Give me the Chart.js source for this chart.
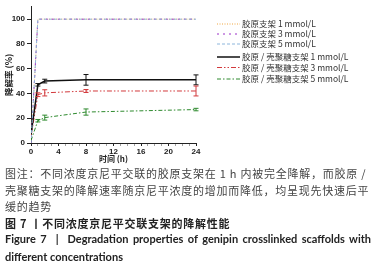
<!DOCTYPE html>
<html lang="zh">
<head>
  <meta charset="UTF-8" />
  <title>Figure 7</title>
  <script src="https://cdn.jsdelivr.net/npm/chart.js"></script>
  <style>
    body {
      margin: 0;
      background: #fff;
      width: 379px;
      height: 267px;
      overflow: hidden;
      position: relative;
    }
    .chart-box {
      position: absolute;
      left: 0;
      top: 0;
      width: 379px;
      height: 170px;
    }
    .caption {
      position: absolute;
      left: 5px;
      top: 165px;
      width: 366px;
      font-family: "Noto Sans CJK SC", sans-serif;
      font-size: 11px;
      line-height: 16.6px;
      letter-spacing: 0.75px;
      color: #444;
      white-space: nowrap;
    }
    .caption .title-cn {
      color: #222;
      font-weight: bold;
    }
    .caption .title-en {
      font-family: "Lato", sans-serif;
      font-weight: bold;
      color: #222;
      letter-spacing: 0;
      font-size: 11px;
    }
    .justify {
      display: block;
      text-align: justify;
      text-align-last: justify;
      white-space: normal;
    }
  </style>
</head>
<body>
  <div class="chart-box">
    <canvas id="degradationChart"></canvas>
  </div>

  <div class="caption">
    图注：不同浓度京尼平交联的胶原支架在 1 h 内被完全降解，而胶原 /<br>
    壳聚糖支架的降解速率随京尼平浓度的增加而降低，均呈现先快速后平<br>
    缓的趋势<br>
    <span class="title-cn">图 7 丨不同浓度京尼平交联支架的降解性能</span><br>
    <span class="title-en justify">Figure 7 &nbsp;| &nbsp;Degradation properties of genipin crosslinked scaffolds with</span>
    <span class="title-en">different concentrations</span>
  </div>

  <script>
    // time points (h)
    const hours = [0, 1, 2, 8, 24];

    // collagen scaffolds - fully degraded within 1 h
    const collagen1 = [0, 100, 100, 100, 100];
    const collagen3 = [0, 100, 100, 100, 100];
    const collagen5 = [0, 100, 100, 100, 100];

    // collagen / chitosan scaffolds
    const chitosan1 = [7, 47, 50, 51, 51];
    const chitosan3 = [5, 39, 40.5, 42, 42];
    const chitosan5 = [2, 18, 20.5, 25, 27];

    // error bars (+/-)
    const chitosan1Err = [0, 1, 1.5, 4.3, 4];
    const chitosan3Err = [0, 1.5, 2.5, 1.2, 4];
    const chitosan5Err = [0, 1, 2, 2.5, 1];

    const seriesLabels = [
      '胶原支架 1 mmol/L',
      '胶原支架 3 mmol/L',
      '胶原支架 5 mmol/L',
      '胶原 / 壳聚糖支架 1 mmol/L',
      '胶原 / 壳聚糖支架 3 mmol/L',
      '胶原 / 壳聚糖支架 5 mmol/L'
    ];

    const xTickValues = [0, 4, 8, 12, 16, 20, 24];
    const xMinorTicks = [1, 2, 3, 5, 6, 7, 9, 10, 11, 13, 14, 15, 17, 18, 19, 21, 22, 23];
    const yTickValues = [0, 20, 40, 60, 80, 100];

    const toPoints = vals => hours.map((h, i) => ({ x: h, y: vals[i] }));

    const makeSet = (label, vals, color, dash, width, order, errors) => ({
      label: label,
      data: toPoints(vals),
      borderColor: color,
      backgroundColor: color,
      borderDash: dash,
      borderWidth: width,
      pointRadius: 0,
      tension: 0,
      fill: false,
      order: order,
      errors: errors
    });

    // error bar drawing, values go through the y scale
    const errorBars = {
      id: 'errorBars',
      afterDatasetsDraw(chart) {
        const ctx = chart.ctx;
        const yScale = chart.scales.y;
        chart.data.datasets.forEach((ds, i) => {
          if (!ds.errors) return;
          const meta = chart.getDatasetMeta(i);
          meta.data.forEach((pt, j) => {
            const e = ds.errors[j];
            if (!e) return;
            const top = yScale.getPixelForValue(ds.data[j].y + e);
            const bot = yScale.getPixelForValue(ds.data[j].y - e);
            ctx.save();
            ctx.strokeStyle = ds.borderColor;
            ctx.lineWidth = 1;
            ctx.beginPath();
            ctx.moveTo(pt.x, top); ctx.lineTo(pt.x, bot);
            ctx.moveTo(pt.x - 2.5, top); ctx.lineTo(pt.x + 2.5, top);
            ctx.moveTo(pt.x - 2.5, bot); ctx.lineTo(pt.x + 2.5, bot);
            ctx.stroke();
            ctx.restore();
          });
        });
      }
    };

    // legend in the upper right, two groups
    const sideLegend = {
      id: 'sideLegend',
      afterDraw(chart) {
        const ctx = chart.ctx;
        const rowsY = [24, 34, 44, 57, 67.5, 79];
        chart.data.datasets.forEach((ds, i) => {
          const y = rowsY[i];
          ctx.save();
          ctx.strokeStyle = ds.borderColor;
          ctx.lineWidth = ds.borderWidth;
          ctx.setLineDash(ds.borderDash || []);
          ctx.beginPath();
          ctx.moveTo(217, y);
          ctx.lineTo(240, y);
          ctx.stroke();
          ctx.setLineDash([]);
          ctx.fillStyle = '#333';
          ctx.font = '8.5px "Noto Sans CJK SC"';
          ctx.textBaseline = 'middle';
          ctx.fillText(ds.label, 242, y);
          ctx.restore();
        });
      }
    };

    const chart = new Chart(document.getElementById('degradationChart').getContext('2d'), {
      type: 'line',
      data: {
        datasets: [
          makeSet(seriesLabels[0], collagen1, '#f0a640', [1, 1.5], 1, 5),
          makeSet(seriesLabels[1], collagen3, '#9b30c8', [2, 4], 1, 4),
          makeSet(seriesLabels[2], collagen5, '#8db6dc', [3, 2], 1, 0),
          makeSet(seriesLabels[3], chitosan1, '#111111', [], 1.5, 1, chitosan1Err),
          makeSet(seriesLabels[4], chitosan3, '#d2393c', [5, 2, 1.5, 2, 1.5, 2], 1, 2, chitosan3Err),
          makeSet(seriesLabels[5], chitosan5, '#2e8a2e', [4, 2, 1.5, 2], 1, 3, chitosan5Err)
        ]
      },
      options: {
        responsive: true,
        maintainAspectRatio: false,
        animation: false,
        layout: { padding: { left: 0, top: 4, right: 183, bottom: 0 } },
        scales: {
          x: {
            type: 'linear',
            min: 0,
            max: 24,
            afterFit: scale => { scale.height = 27; },
            afterBuildTicks: scale => {
              scale.ticks = xTickValues.concat(xMinorTicks).sort((a, b) => a - b).map(v => ({ value: v }));
            },
            border: { color: '#222', width: 1 },
            grid: {
              display: true,
              drawOnChartArea: false,
              drawTicks: true,
              tickLength: 3,
              tickColor: ctx => (xTickValues.includes(ctx.tick && ctx.tick.value) ? '#222' : '#777'),
              tickWidth: ctx => (xTickValues.includes(ctx.tick && ctx.tick.value) ? 1 : 0.7)
            },
            ticks: {
              color: '#222',
              font: { family: 'Arial', size: 8, weight: 'bold' },
              padding: 1,
              maxRotation: 0,
              autoSkip: false,
              callback: v => (xTickValues.includes(v) ? v : '')
            },
            title: { display: true, text: '时间 (h)', color: '#222', font: { family: 'Noto Sans CJK SC', size: 8, weight: 'bold' }, padding: { top: 0, bottom: 6 } }
          },
          y: {
            min: 0,
            max: 110,
            afterFit: scale => { scale.width = 31; },
            afterBuildTicks: scale => {
              scale.ticks = yTickValues.map(v => ({ value: v }));
            },
            border: { color: '#222', width: 1 },
            grid: { display: true, drawOnChartArea: false, drawTicks: true, tickLength: 4, tickColor: '#222' },
            ticks: { color: '#222', font: { family: 'Arial', size: 8, weight: 'bold' }, padding: 2 },
            title: { display: true, text: '降解率 (%)', color: '#222', font: { family: 'Noto Sans CJK SC', size: 8.5, weight: 'bold' }, padding: { top: 4, bottom: 0 } }
          }
        },
        plugins: {
          legend: { display: false },
          tooltip: { enabled: false }
        }
      },
      plugins: [errorBars, sideLegend]
    });
  </script>
</body>
</html>
